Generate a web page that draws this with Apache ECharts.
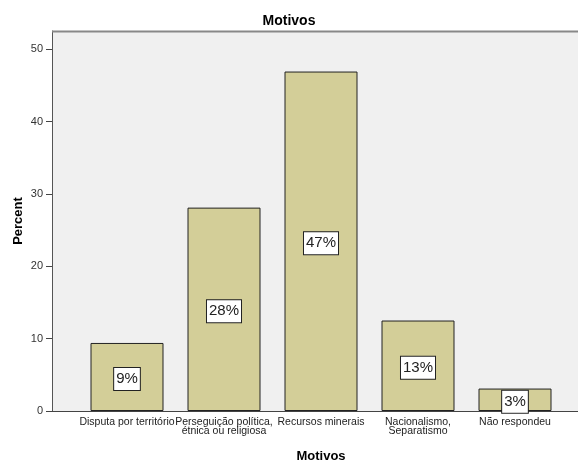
<!DOCTYPE html>
<html>
<head>
<meta charset="utf-8">
<script src="https://cdn.jsdelivr.net/npm/echarts@6/dist/echarts.min.js"></script>
<style>
  html, body { margin: 0; padding: 0; background: #fff; }
  #chart { width: 578px; height: 461px; }
</style>
</head>
<body>
<div id="chart"></div>
<script>
const categories = [
  'Disputa por território',
  'Perseguição política,\nétnica ou religiosa',
  'Recursos minerais',
  'Nacionalismo,\nSeparatismo',
  'Não respondeu'
]
const percents = [9.4, 28.1, 46.9, 12.5, 3.1]
const yTicks = [0, 10, 20, 30, 40, 50]

const font = 'Arial, "Liberation Sans", sans-serif'
const chart = echarts.init(document.getElementById('chart'))

chart.setOption({
  animation: false,
  backgroundColor: '#fff',
  title: {
    text: 'Motivos',
    left: 'center',
    top: 9,
    textStyle: { fontFamily: font, fontSize: 14, fontWeight: 'bold', color: '#000' }
  },
  // plot frame drawn behind the grid (grid is inset so bars sit like the original)
  graphic: [
    { type: 'rect', z: -1, shape: { x: 52, y: 31, width: 530, height: 380 },
      style: { fill: '#f0f0f0' } },
    { type: 'line', z: 1, shape: { x1: 52, y1: 31.5, x2: 578, y2: 31.5 },
      style: { stroke: '#888', lineWidth: 2 } },
    { type: 'line', z: 1, shape: { x1: 52, y1: 411.5, x2: 578, y2: 411.5 },
      style: { stroke: '#444', lineWidth: 1 } }
  ],
  grid: {
    left: 78.5,
    top: 31,
    width: 485,
    bottom: 50,
    outerBoundsMode: 'none',
    containLabel: false
  },
  xAxis: {
    type: 'category',
    data: categories,
    name: 'Motivos',
    nameLocation: 'middle',
    nameGap: 39,
    nameTextStyle: { fontFamily: font, fontSize: 13, fontWeight: 'bold', color: '#000' },
    axisLine: { show: false },
    axisTick: { alignWithLabel: true, length: 4, lineStyle: { color: '#444' } },
    axisLabel: {
      interval: 0,
      margin: 7,
      fontFamily: font,
      fontSize: 10.5,
      lineHeight: 9,
      color: '#222'
    }
  },
  yAxis: {
    type: 'value',
    min: 0,
    max: 52.5,
    interval: 10,
    offset: 26.5,
    name: 'Percent',
    nameLocation: 'middle',
    nameGap: 27,
    nameMoveOverlap: false,
    nameTextStyle: { fontFamily: font, fontSize: 13, fontWeight: 'bold', color: '#000' },
    splitLine: { show: false },
    axisLine: { show: true, lineStyle: { color: '#555', width: 1 } },
    axisTick: { show: true, length: 6, customValues: yTicks, lineStyle: { color: '#444' } },
    axisLabel: {
      customValues: yTicks,
      margin: 9,
      fontFamily: font,
      fontSize: 11,
      color: '#333'
    }
  },
  series: [{
    type: 'bar',
    data: percents,
    barWidth: 73,
    itemStyle: { color: '#d3ce98', borderColor: '#222', borderWidth: 1 },
    label: {
      show: true,
      position: 'inside',
      offset: [0, 2],
      formatter: p => Math.round(p.value) + '%',
      fontFamily: font,
      fontSize: 15,
      color: '#222',
      backgroundColor: '#fff',
      borderColor: '#222',
      borderWidth: 1,
      padding: [4, 2, 3, 2]
    }
  }]
})
</script>
</body>
</html>
